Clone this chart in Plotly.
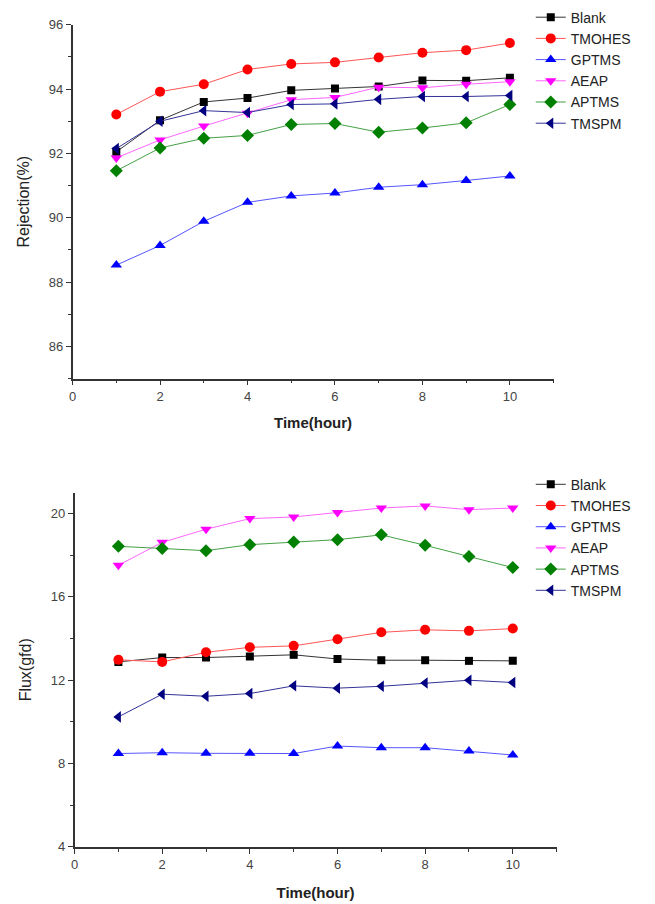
import plotly.graph_objects as go

time_h = [1, 2, 3, 4, 5, 6, 7, 8, 9, 10]
series_names = ["Blank", "TMOHES", "GPTMS", "AEAP", "APTMS", "TMSPM"]

rej_blank = [92.05, 93.03, 93.60, 93.72, 93.96, 94.02, 94.08, 94.27, 94.26, 94.35]
rej_tmohes = [93.21, 93.92, 94.15, 94.61, 94.78, 94.83, 94.98, 95.13, 95.21, 95.43]
rej_gptms = [88.53, 89.14, 89.89, 90.48, 90.68, 90.77, 90.95, 91.03, 91.16, 91.30]
rej_aeap = [91.86, 92.42, 92.85, 93.25, 93.67, 93.74, 94.06, 94.04, 94.15, 94.23]
rej_aptms = [91.46, 92.17, 92.47, 92.56, 92.90, 92.93, 92.66, 92.79, 92.95, 93.52]
rej_tmspm = [92.15, 93.00, 93.33, 93.27, 93.52, 93.54, 93.68, 93.77, 93.77, 93.80]

flux_blank = [12.88, 13.09, 13.09, 13.14, 13.22, 13.02, 12.96, 12.96, 12.93, 12.93]
flux_tmohes = [12.98, 12.88, 13.34, 13.58, 13.65, 13.97, 14.30, 14.42, 14.37, 14.48]
flux_gptms = [8.48, 8.52, 8.49, 8.49, 8.48, 8.84, 8.76, 8.76, 8.60, 8.41]
flux_aeap = [17.52, 18.62, 19.25, 19.76, 19.84, 20.06, 20.27, 20.37, 20.19, 20.27]
flux_aptms = [18.43, 18.32, 18.22, 18.51, 18.64, 18.75, 18.98, 18.48, 17.94, 17.41]
flux_tmspm = [10.24, 11.33, 11.23, 11.36, 11.73, 11.62, 11.71, 11.87, 12.00, 11.89]

rej_ticks = [86, 88, 90, 92, 94, 96]
flux_ticks = [4, 8, 12, 16, 20]
time_ticks = [0, 2, 4, 6, 8, 10]

marker_colors = ["#000000", "#ff0000", "#0000ff", "#ff00ff", "#008000", "#000080"]
line_colors = ["#333333", "#ff5555", "#5555ff", "#ff66ff", "#44a044", "#333399"]
symbols = ["square", "circle", "triangle-up", "triangle-down", "diamond", "triangle-left"]
sizes = [8, 10, 10, 10, 10, 10]

rej_data = [rej_blank, rej_tmohes, rej_gptms, rej_aeap, rej_aptms, rej_tmspm]
flux_data = [flux_blank, flux_tmohes, flux_gptms, flux_aeap, flux_aptms, flux_tmspm]

fig = go.Figure()
for i, name in enumerate(series_names):
    fig.add_trace(go.Scatter(
        x=time_h, y=rej_data[i], name=name, mode="lines+markers",
        line=dict(color=line_colors[i], width=1),
        marker=dict(color=marker_colors[i], symbol=symbols[i], size=sizes[i]),
        xaxis="x", yaxis="y", legend="legend"))
for i, name in enumerate(series_names):
    fig.add_trace(go.Scatter(
        x=time_h, y=flux_data[i], name=name, mode="lines+markers",
        line=dict(color=line_colors[i], width=1),
        marker=dict(color=marker_colors[i], symbol=symbols[i], size=sizes[i]),
        xaxis="x2", yaxis="y2", legend="legend2"))

W, H = 655, 904
font_family = "Liberation Sans, Arial, sans-serif"

def xax(domain, anchor, standoff):
    return dict(domain=domain, anchor=anchor, range=[0, 11], tickmode="array",
                tickvals=time_ticks, showline=True, linecolor="#333333", linewidth=1.5,
                ticks="outside", ticklen=5, tickcolor="#333333", showgrid=False, zeroline=False,
                minor=dict(tickvals=[1, 3, 5, 7, 9, 11], ticks="outside", ticklen=3, tickcolor="#333333"),
                tickfont=dict(size=13, color="#444444", family=font_family),
                title=dict(text="<b>Time(hour)</b>", font=dict(size=15, color="#222222", family=font_family), standoff=standoff))

def yax(domain, anchor, rng, ticks, minors, title):
    return dict(domain=domain, anchor=anchor, range=rng, tickmode="array", tickvals=ticks,
                showline=True, linecolor="#333333", linewidth=1.5, ticks="outside", ticklen=5,
                tickcolor="#333333", showgrid=False, zeroline=False,
                minor=dict(tickvals=minors, ticks="outside", ticklen=3, tickcolor="#333333"),
                tickfont=dict(size=13, color="#444444", family=font_family),
                title=dict(text=title, font=dict(size=16, color="#222222", family=font_family), standoff=15))

fig.update_layout(
    width=W, height=H, margin=dict(l=0, r=0, t=0, b=0),
    paper_bgcolor="white", plot_bgcolor="white",
    font=dict(family=font_family),
    showlegend=True,
    xaxis=xax([69 / W, 553 / W], "y", 14),
    yaxis=yax([1 - 378 / H, 1 - 18 / H], "x", [85, 96], rej_ticks, [85, 87, 89, 91, 93, 95], "Rejection(%)"),
    xaxis2=xax([71 / W, 556 / W], "y2", 16),
    yaxis2=yax([1 - 854 / H, 1 - 494 / H], "x2", [4, 21], flux_ticks, [6, 10, 14, 18], "Flux(gfd)"),
    legend=dict(x=530 / W, y=1 + 5.5 / H, xanchor="left", yanchor="top", bgcolor="rgba(0,0,0,0)",
                font=dict(size=14, color="#222222", family=font_family), tracegroupgap=0, itemwidth=30),
    legend2=dict(x=530 / W, y=1 - 469.5 / H, xanchor="left", yanchor="top", bgcolor="rgba(0,0,0,0)",
                 font=dict(size=14, color="#222222", family=font_family), tracegroupgap=0, itemwidth=30),
)

fig.write_html("out.html")
